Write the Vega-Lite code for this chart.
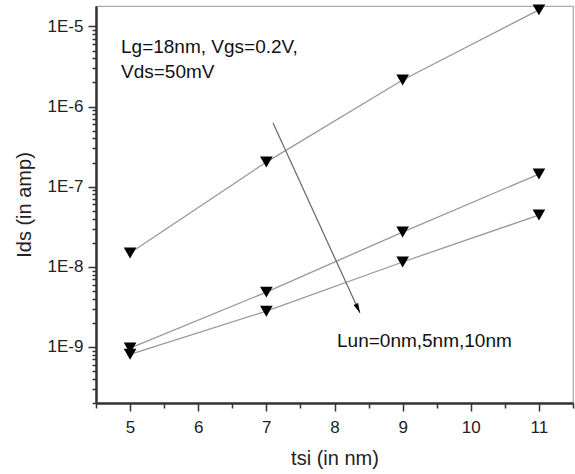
{
  "$schema": "https://vega.github.io/schema/vega-lite/v6.json",
  "width": 477,
  "height": 397,
  "autosize": "none",
  "padding": {"left": 96, "top": 6, "right": 2, "bottom": 71},
  "background": "white",
  "config": {
    "view": {"stroke": "#aaaaaa", "strokeWidth": 1.2},
    "font": "Liberation Sans"
  },
  "datasets": {
    "series": [
      {"tsi": 5, "ids": 1.49e-8, "lun": "0nm"},
      {"tsi": 7, "ids": 2.03e-7, "lun": "0nm"},
      {"tsi": 9, "ids": 2.15e-6, "lun": "0nm"},
      {"tsi": 11, "ids": 1.61e-5, "lun": "0nm"},
      {"tsi": 5, "ids": 9.7e-10, "lun": "5nm"},
      {"tsi": 7, "ids": 4.84e-9, "lun": "5nm"},
      {"tsi": 9, "ids": 2.72e-8, "lun": "5nm"},
      {"tsi": 11, "ids": 1.44e-7, "lun": "5nm"},
      {"tsi": 5, "ids": 8.1e-10, "lun": "10nm"},
      {"tsi": 7, "ids": 2.8e-9, "lun": "10nm"},
      {"tsi": 9, "ids": 1.15e-8, "lun": "10nm"},
      {"tsi": 11, "ids": 4.43e-8, "lun": "10nm"}
    ],
    "arrow": [
      {"tsi": 7.098, "ids": 6.24e-7, "tsi2": 8.374, "ids2": 2.65e-9}
    ],
    "arrowhead": [
      {"tsi": 8.374, "ids": 2.65e-9}
    ],
    "labels": [
      {"tsi": 4.867, "ids": 4.67e-6, "text": "Lg=18nm, Vgs=0.2V,"},
      {"tsi": 4.867, "ids": 2.28e-6, "text": "Vds=50mV"},
      {"tsi": 8.037, "ids": 9.97e-10, "text": "Lun=0nm,5nm,10nm"}
    ]
  },
  "encoding": {
    "x": {
      "field": "tsi", "type": "quantitative",
      "scale": {"domain": [4.5, 11.5], "nice": false, "zero": false},
      "axis": {
        "title": "tsi (in nm)",
        "values": [4.5, 5, 5.5, 6, 6.5, 7, 7.5, 8, 8.5, 9, 9.5, 10, 10.5, 11, 11.5],
        "labelExpr": "datum.value % 1 === 0 ? '' + datum.value : ''",
        "tickSize": {"condition": {"test": "datum.value % 1 === 0", "value": 8}, "value": 5},
        "labelOverlap": false, "labelFlush": false, "grid": false,
        "domainColor": "#333333", "domainWidth": 2.5,
        "tickColor": "#333333", "tickWidth": 1.5,
        "labelFont": "Liberation Sans", "labelFontSize": 17, "labelColor": "#222222", "labelPadding": 8,
        "titleFont": "Liberation Sans", "titleFontSize": 20, "titleFontWeight": "normal", "titleColor": "#222222", "titlePadding": 13
      }
    },
    "y": {
      "field": "ids", "type": "quantitative",
      "scale": {"type": "log", "domain": [2e-10, 1.8e-5], "nice": false},
      "axis": {
        "title": "Ids (in amp)",
        "values": [2e-10, 3e-10, 4e-10, 5e-10, 6e-10, 7e-10, 8e-10, 9e-10,
                   1e-9, 2e-9, 3e-9, 4e-9, 5e-9, 6e-9, 7e-9, 8e-9, 9e-9,
                   1e-8, 2e-8, 3e-8, 4e-8, 5e-8, 6e-8, 7e-8, 8e-8, 9e-8,
                   1e-7, 2e-7, 3e-7, 4e-7, 5e-7, 6e-7, 7e-7, 8e-7, 9e-7,
                   1e-6, 2e-6, 3e-6, 4e-6, 5e-6, 6e-6, 7e-6, 8e-6, 9e-6,
                   1e-5],
        "labelExpr": "abs(log(datum.value)/LN10 - round(log(datum.value)/LN10)) < 0.01 ? '1E' + round(log(datum.value)/LN10) : ''",
        "tickSize": {"condition": {"test": "abs(log(datum.value)/LN10 - round(log(datum.value)/LN10)) < 0.01", "value": 8}, "value": 4},
        "labelOverlap": false, "labelFlush": false, "grid": false,
        "domainColor": "#333333", "domainWidth": 2.5,
        "tickColor": "#333333", "tickWidth": 1.5,
        "labelFont": "Liberation Sans", "labelFontSize": 17, "labelColor": "#222222", "labelPadding": 5,
        "titleFont": "Liberation Sans", "titleFontSize": 20, "titleFontWeight": "normal", "titleColor": "#222222", "titlePadding": 13
      }
    }
  },
  "layer": [
    {
      "data": {"name": "series"},
      "mark": {"type": "line", "color": "#999999", "strokeWidth": 1.3},
      "encoding": {
        "detail": {"field": "lun", "type": "nominal"}
      }
    },
    {
      "data": {"name": "series"},
      "mark": {"type": "point", "shape": "triangle-down", "filled": true, "color": "#000000", "size": 160, "opacity": 1},
      "encoding": {}
    },
    {
      "data": {"name": "arrow"},
      "mark": {"type": "rule", "color": "#666666", "strokeWidth": 1.2},
      "encoding": {
        "x2": {"field": "tsi2"},
        "y2": {"field": "ids2"}
      }
    },
    {
      "data": {"name": "arrowhead"},
      "mark": {"type": "point", "shape": "M0,0L0.5,2L-0.5,2Z", "filled": true, "color": "#000000", "size": 100, "angle": 155.4, "opacity": 1},
      "encoding": {}
    },
    {
      "data": {"name": "labels"},
      "mark": {"type": "text", "align": "left", "baseline": "alphabetic", "font": "Liberation Sans", "fontSize": 19, "color": "#111111"},
      "encoding": {
        "text": {"field": "text", "type": "nominal"}
      }
    }
  ]
}
